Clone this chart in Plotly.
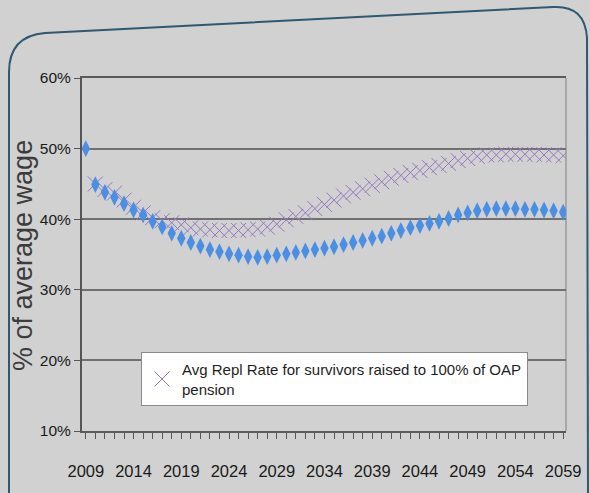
import plotly.graph_objects as go

# Replacement rates, % of average wage, one value per year
years = list(range(2009, 2060))

repl_rate = [50.0, 44.9, 43.8, 43.1, 42.2, 41.3, 40.6, 39.7, 38.9, 38.0,
             37.3, 36.7, 36.2, 35.7, 35.4, 35.1, 34.9, 34.7, 34.6, 34.7,
             34.9, 35.1, 35.3, 35.5, 35.7, 35.9, 36.1, 36.4, 36.7, 37.0,
             37.3, 37.6, 38.0, 38.4, 38.8, 39.1, 39.4, 39.7, 40.1, 40.6,
             40.9, 41.2, 41.4, 41.5, 41.5, 41.5, 41.4, 41.4, 41.3, 41.2, 41.0]

repl_rate_survivors = [None, 45.0, 44.2, 43.7, 42.7, 41.7, 40.9, 40.2, 39.8, 39.5,
                       39.2, 38.8, 38.6, 38.5, 38.4, 38.4, 38.4, 38.5, 38.6, 38.9,
                       39.3, 39.9, 40.4, 40.9, 41.5, 42.1, 42.7, 43.3, 43.8, 44.3,
                       44.8, 45.3, 45.8, 46.2, 46.6, 46.9, 47.3, 47.6, 47.9, 48.3,
                       48.6, 48.9, 49.1, 49.1, 49.2, 49.2, 49.2, 49.2, 49.1, 49.1, 49.0]

survivors_label = "Avg Repl Rate for survivors raised to 100% of OAP<br>pension"
y_title = "% of average wage"
y_ticks = [10, 20, 30, 40, 50, 60]
y_ticktext = ["10%", "20%", "30%", "40%", "50%", "60%"]
x_ticks = list(range(2009, 2060, 5))

W, H = 590, 493
ML, MR, MT, MB = 82, 24, 78, 62
PW, PH = W - ML - MR, H - MT - MB

FONT = "Arial"


def px(x):
    return (x - ML) / PW


def py(y):
    return (H - MB - y) / PH


fig = go.Figure()

fig.add_trace(go.Scatter(
    x=years, y=repl_rate_survivors, name=survivors_label, mode="markers",
    marker=dict(symbol="x-thin-open", size=15, color="#9479c0",
                line=dict(width=1, color="#9479c0")),
))

fig.add_trace(go.Scatter(
    x=years, y=repl_rate, name="Avg Repl Rate", mode="markers", showlegend=False,
    marker=dict(symbol="diamond-tall", size=12, color="#4a8fe3",
                line=dict(width=0)),
))

# Rounded frame around the chart
frame = (f"M {px(9)},{py(500)} L {px(9)},{py(72)} "
         f"Q {px(9)},{py(36)} {px(45)},{py(33)} "
         f"L {px(553)},{py(7)} "
         f"Q {px(585)},{py(5)} {px(587)},{py(38)} "
         f"L {px(588)},{py(500)}")
fig.add_shape(type="path", path=frame, xref="paper", yref="paper",
              line=dict(color="#2f5872", width=2), layer="below")

# Right border of the plot area
fig.add_shape(type="line", xref="paper", yref="paper", x0=1, x1=1, y0=0, y1=1,
              line=dict(color="#9a9a9a", width=1.5), layer="below")

fig.add_annotation(
    text=y_title, textangle=-90, xref="paper", yref="paper",
    x=px(23), y=py(256), xanchor="center", yanchor="middle", showarrow=False,
    font=dict(family=FONT, size=27, color="#3c3c3c"),
)

fig.update_layout(
    width=W, height=H,
    margin=dict(l=ML, r=MR, t=MT, b=MB, autoexpand=False),
    paper_bgcolor="#d1d1d1", plot_bgcolor="rgba(0,0,0,0)",
    font=dict(family=FONT, color="#222222"),
    showlegend=True,
    legend=dict(
        x=px(141), y=py(352), xanchor="left", yanchor="top",
        bgcolor="#ffffff", bordercolor="#8a8a8a", borderwidth=1,
        font=dict(family=FONT, size=15, color="#1e1e1e"),
        entrywidth=392, entrywidthmode="pixels",
    ),
    xaxis=dict(
        range=[2008.6, 2059.3], tickvals=x_ticks, showgrid=False,
        showline=True, mirror=True, linecolor="#5a5a5a", linewidth=2,
        ticks="outside", ticklen=6, tickcolor="#555555", tickwidth=1,
        minor=dict(dtick=1, tick0=2009, ticks="outside", ticklen=6,
                   tickcolor="#555555", showgrid=False),
        tickfont=dict(family=FONT, size=16.5, color="#1a1a1a"),
        tickangle=0, ticklabelstandoff=18, zeroline=False,
    ),
    yaxis=dict(
        range=[10, 60], tickvals=y_ticks, ticktext=y_ticktext,
        showgrid=True, gridcolor="#707070", gridwidth=2,
        showline=True, linecolor="#555555", linewidth=2,
        ticks="outside", ticklen=6, tickcolor="#555555",
        tickfont=dict(family=FONT, size=15.5, color="#1a1a1a"),
        zeroline=False,
    ),
)

fig.write_html("out.html")
